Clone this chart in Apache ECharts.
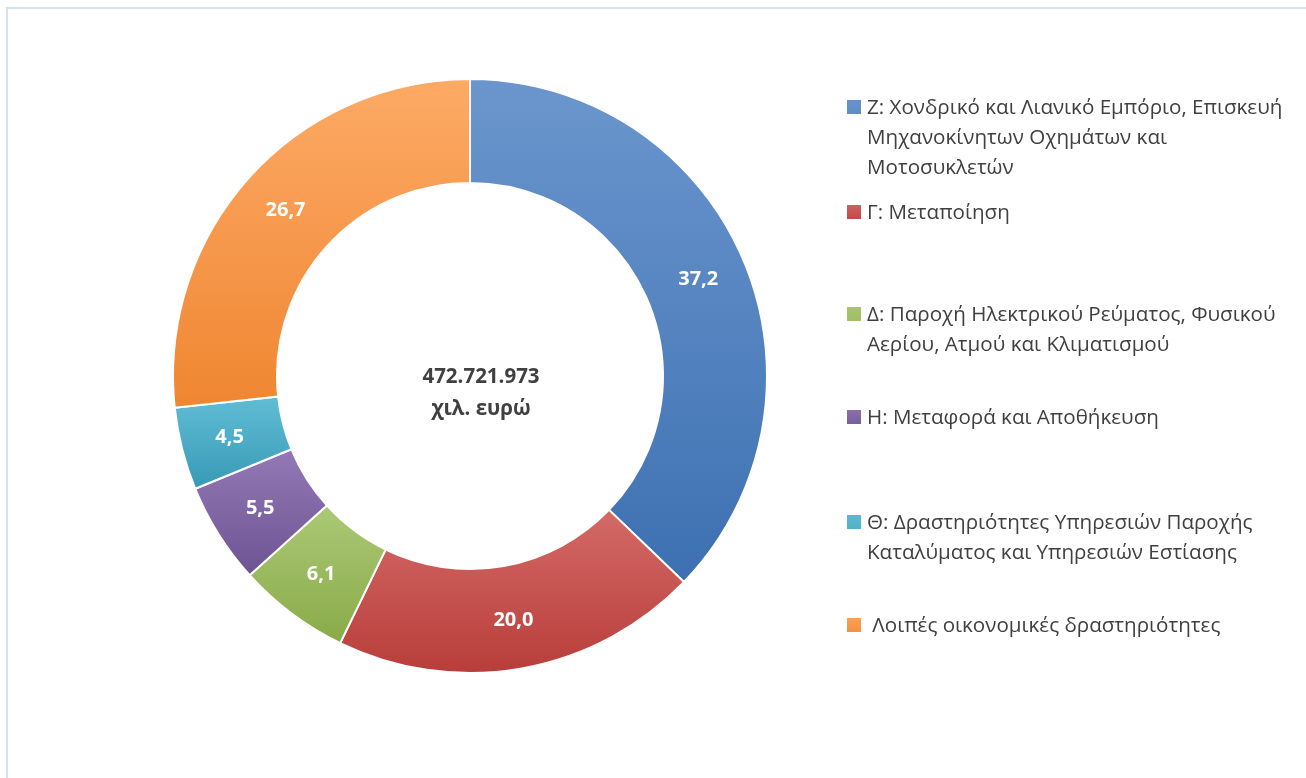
<!DOCTYPE html>
<html>
<head>
    <meta charset="UTF-8">
    <title>Donut</title>
    <script src="https://cdn.jsdelivr.net/npm/echarts@6/dist/echarts.min.js"></script>
    <style>
        html, body { margin: 0; padding: 0; background: #fff; }
    </style>
</head>
<body>
<div id="pie" style="width:1306px; height:778px;"></div>
<script>
    var categories = [
        'Ζ: Χονδρικό και Λιανικό Εμπόριο, Επισκευή\nΜηχανοκίνητων Οχημάτων και\nΜοτοσυκλετών',
        'Γ: Μεταποίηση',
        'Δ: Παροχή Ηλεκτρικού Ρεύματος, Φυσικού\nΑερίου, Ατμού και Κλιματισμού',
        'Η: Μεταφορά και Αποθήκευση',
        'Θ: Δραστηριότητες Υπηρεσιών Παροχής\nΚαταλύματος και Υπηρεσιών Εστίασης',
        ' Λοιπές οικονομικές δραστηριότητες'
    ];
    var shares = [37.2, 20.0, 6.1, 5.5, 4.5, 26.7];
    var totalLabel = '472.721.973\nχιλ. ευρώ';

    var colorsLight = ['#6b96cd', '#d46a67', '#acc976', '#9379b5', '#62bdd6', '#fdaa66'];
    var colorsDark = ['#3d70b2', '#b83d3a', '#89aa48', '#6e5393', '#3799b4', '#ef8631'];
    var legendTops = [93, 198, 300, 403, 508, 611];

    var LINE = 30;
    var chart = echarts.init(document.getElementById('pie'), null, {renderer: 'canvas'});

    function grad(i) {
        return new echarts.graphic.LinearGradient(0, 0, 0, 1, [
            {offset: 0, color: colorsLight[i]},
            {offset: 1, color: colorsDark[i]}
        ]);
    }

    // square marker sitting on the first text line of a multi-line item
    function topIcon(lines) {
        var h = lines * LINE;
        return 'path://M0,0L0.01,0L0.01,0.01Z M0,7L14,7L14,21L0,21Z M0,' + h +
            'L0.01,' + h + 'L0.01,' + (h - 0.01) + 'Z';
    }

    var data = categories.map(function (c, i) {
        return {name: c, value: shares[i], itemStyle: {color: grad(i)}};
    });

    var legends = categories.map(function (c, i) {
        var lines = c.split('\n').length;
        return {
            data: [{name: c, itemStyle: {color: grad(i), borderWidth: 0}}],
            left: 847,
            top: legendTops[i],
            orient: 'vertical',
            padding: 0,
            icon: topIcon(lines),
            itemWidth: 14,
            itemHeight: lines * LINE,
            itemGap: 0,
            itemStyle: {borderWidth: 0},
            selectedMode: false,
            textStyle: {
                fontFamily: 'Open Sans',
                fontSize: 20.6,
                lineHeight: LINE,
                color: '#404040',
                padding: [0, 0, 0, 1]
            }
        };
    });

    chart.setOption({
        animation: false,
        graphic: [{
            type: 'rect',
            shape: {x: 7, y: 8, width: 1320, height: 800},
            style: {fill: 'none', stroke: '#d5e2f2', lineWidth: 2}
        }],
        title: {
            text: totalLabel,
            left: 476,
            top: 356,
            textAlign: 'center',
            textStyle: {
                fontFamily: 'Open Sans',
                fontSize: 20.5,
                fontWeight: 'bold',
                color: '#404040',
                lineHeight: 32
            }
        },
        legend: legends,
        series: [{
            type: 'pie',
            center: [470, 376],
            radius: [193, 297],
            startAngle: 90,
            clockwise: true,
            silent: true,
            itemStyle: {borderColor: '#fff', borderWidth: 2},
            label: {
                show: true,
                position: 'inside',
                formatter: function (p) { return p.value.toFixed(1).replace('.', ','); },
                fontFamily: 'Open Sans',
                fontSize: 20,
                fontWeight: 'bold',
                color: '#fff'
            },
            labelLine: {show: false},
            data: data
        }]
    });
</script>
</body>
</html>
